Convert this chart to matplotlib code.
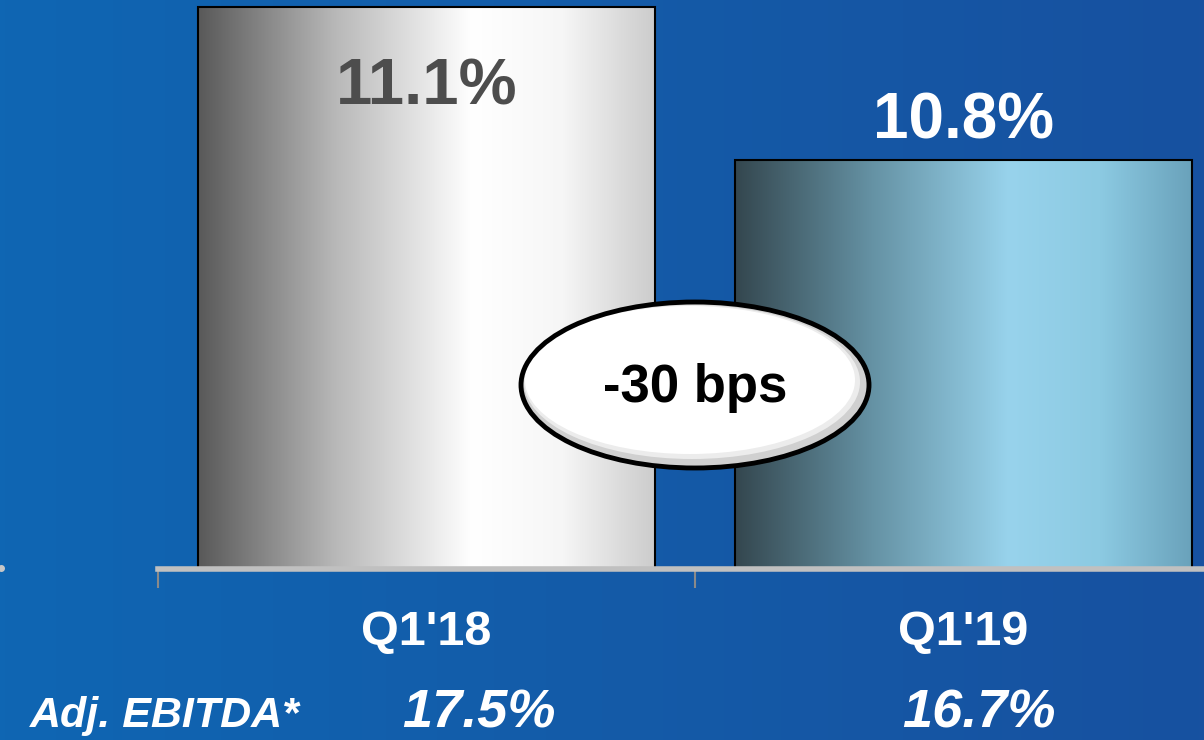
import numpy as np
import matplotlib
matplotlib.use("Agg")
import matplotlib.pyplot as plt
from matplotlib.patches import Ellipse
from matplotlib.colors import LinearSegmentedColormap
import matplotlib.transforms as mtransforms

plt.rcParams['font.family'] = ['Liberation Sans', 'DejaVu Sans']

# ---- data ----
categories = ["Q1'18", "Q1'19"]
margins = [11.1, 10.8]
value_labels = ["11.1%", "10.8%"]
ebitda_label = "Adj. EBITDA*"
ebitda_values = ["17.5%", "16.7%"]
change_label = "-30 bps"

W, H = 1204, 740
fig = plt.figure(figsize=(W / 100, H / 100), dpi=100)

# background gradient
bg = fig.add_axes([0, 0, 1, 1])
bg.set_axis_off()
bg_cmap = LinearSegmentedColormap.from_list("bg", ["#0f66b3", "#145ba8", "#1751a0"])
grad = np.linspace(0, 1, 256)[None, :]
bg.imshow(grad, cmap=bg_cmap, aspect="auto", extent=[0, 1, 0, 1])
bg.set_xlim(0, 1)
bg.set_ylim(0, 1)

# main axes (pixel placement)
left_px, right_px = 158, 1232
bottom_px, top_px = 568.5, 0
ax = fig.add_axes([left_px / W, (H - bottom_px) / H, (right_px - left_px) / W, (bottom_px - top_px) / H])
ax.set_facecolor("none")
x = np.arange(len(categories))
bars = ax.bar(x, margins, width=0.85, bottom=0, color="none", edgecolor="black", linewidth=1.5, zorder=3)

cmap1 = LinearSegmentedColormap.from_list("g1", [(0, "#595959"), (0.3, "#b8b8b8"), (0.6, "#ffffff"), (0.8, "#f6f6f6"), (1, "#cccccc")])
cmap2 = LinearSegmentedColormap.from_list("g2", [(0, "#34474f"), (0.3, "#6592a4"), (0.6, "#98d3ec"), (0.8, "#8ccae2"), (1, "#6aa2bb")])
for b, cm in zip(bars, [cmap1, cmap2]):
    x0 = b.get_x()
    x1 = x0 + b.get_width()
    im = ax.imshow(grad, cmap=cm, aspect="auto", extent=[x0, x1, 10.0, b.get_height()], zorder=2)
    im.set_clip_path(b)
ax.set_xlim(-0.5, 1.5)
ax.set_ylim(10.0, 11.113)

for s in ["top", "right", "left"]:
    ax.spines[s].set_visible(False)
ax.spines["bottom"].set_color("#c0c0c0")
ax.spines["bottom"].set_linewidth(4)
ax.spines["bottom"].set_zorder(4)
ax.set_yticks([])
ax.set_xticks([-0.5, 0.5])
ax.tick_params(axis="x", length=14, width=1.5, color="#8a8a8a", labelbottom=False, direction="out")

# value labels on bars
ax.text(0, 11.1 - 0.158, value_labels[0], ha="center", va="center", fontsize=47, fontweight="bold", color="#4d4d4d", zorder=5)
ax.text(1, 10.8 + 0.076, value_labels[1], ha="center", va="center", fontsize=46, fontweight="bold", color="white", zorder=5)

# category labels
trans = mtransforms.blended_transform_factory(ax.transData, fig.transFigure)
for xi, c in zip(x, categories):
    fig.text(xi, 1 - 633 / H, c, transform=trans, ha="center", va="center", fontsize=35, fontweight="bold", color="white")

fig.text(30 / W, 1 - 716 / H, ebitda_label, ha="left", va="center", fontsize=31, fontweight="bold", style="italic", color="white")
for xi, v, off in zip(x, ebitda_values, [0.097, 0.028]):
    fig.text(xi + off, 1 - 714 / H, v, transform=trans, ha="center", va="center", fontsize=39, fontweight="bold", style="italic", color="white")

# small dot on left
fig.add_artist(plt.Line2D([1 / W], [1 - 568 / H], marker="o", markersize=4, color="#c8c8c8", transform=fig.transFigure))

# ellipse callout (pixel coords)
ov = fig.add_axes([0, 0, 1, 1])
ov.set_axis_off()
ov.set_xlim(0, W)
ov.set_ylim(H, 0)
ov.set_facecolor("none")
cx, cy, ew, eh = 695, 385, 348, 166
ov.add_patch(Ellipse((cx, cy), ew, eh, facecolor="#d0d0d0", edgecolor="none", zorder=1))
ov.add_patch(Ellipse((cx - 3, cy - 3), ew - 12, eh - 12, facecolor="#ececec", edgecolor="none", zorder=2))
ov.add_patch(Ellipse((cx - 5, cy - 5), ew - 18, eh - 18, facecolor="white", edgecolor="none", zorder=2))
ov.add_patch(Ellipse((cx, cy), ew, eh, facecolor="none", edgecolor="black", linewidth=3.5, zorder=3))
ov.text(cx, cy + 3, change_label, ha="center", va="center", fontsize=38, fontweight="bold", color="black", zorder=4)

fig.savefig("out.png", dpi=100)
